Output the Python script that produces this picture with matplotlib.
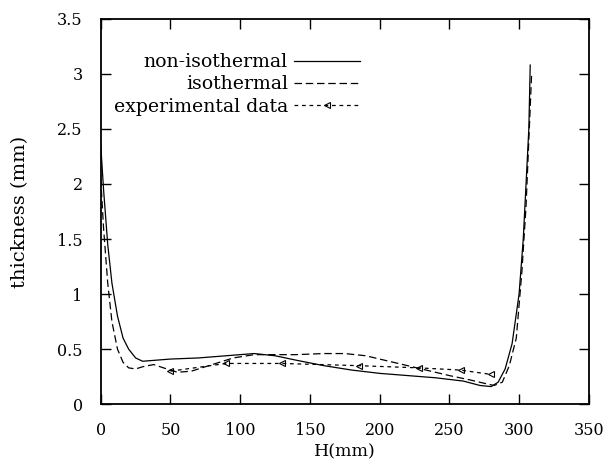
import matplotlib
matplotlib.use("Agg")
import matplotlib.pyplot as plt

# non-isothermal simulation (solid)
NONISO_H = [0, 2, 5, 8, 12, 16, 20, 25, 30, 40, 50, 70, 90, 110, 125, 140, 160,
            180, 200, 220, 240, 260, 272, 280, 285, 290, 295, 300, 303, 305, 307, 308]
NONISO_T = [2.35, 1.95, 1.45, 1.10, 0.80, 0.60, 0.50, 0.42, 0.39, 0.40, 0.41, 0.42,
            0.44, 0.46, 0.44, 0.40, 0.35, 0.31, 0.28, 0.26, 0.24, 0.21, 0.17, 0.16,
            0.20, 0.32, 0.55, 1.00, 1.50, 2.00, 2.50, 3.08]

# isothermal simulation (dashed)
ISO_H = [0, 2, 5, 8, 12, 16, 20, 25, 30, 38, 45, 55, 65, 80, 95, 110, 125, 140,
         160, 175, 190, 210, 230, 250, 265, 275, 282, 288, 293, 298, 302, 305, 307, 309]
ISO_T = [2.05, 1.60, 1.10, 0.75, 0.50, 0.38, 0.33, 0.32, 0.34, 0.36, 0.33, 0.29,
         0.30, 0.36, 0.42, 0.45, 0.45, 0.45, 0.46, 0.46, 0.44, 0.38, 0.32, 0.26,
         0.22, 0.19, 0.17, 0.20, 0.35, 0.60, 1.20, 1.80, 2.40, 3.00]

# experimental measurements
EXP_H = [50, 90, 130, 185, 228, 258, 280]
EXP_T = [0.30, 0.37, 0.37, 0.35, 0.33, 0.31, 0.27]

XTICKS = [0, 50, 100, 150, 200, 250, 300, 350]
YTICKS = [0, 0.5, 1, 1.5, 2, 2.5, 3, 3.5]

plt.rcParams["font.family"] = ["DejaVu Serif"]

fig = plt.figure(figsize=(6.07, 4.70), dpi=100)
ax = fig.add_axes([0.166, 0.140, 0.804, 0.820])

ax.plot(NONISO_H, NONISO_T, color="black", lw=0.9, label="non-isothermal")
ax.plot(ISO_H, ISO_T, color="black", lw=0.9, dashes=(6, 3), label="isothermal")
ax.plot(EXP_H, EXP_T, color="black", lw=0.9, dashes=(3, 3), marker="<",
        markersize=4, fillstyle="none", markeredgewidth=0.8,
        label="experimental data")

ax.set_xlim(0, 350)
ax.set_ylim(0, 3.5)
ax.set_xticks(XTICKS)
ax.set_yticks(YTICKS)
ax.set_yticklabels(["0", "0.5", "1", "1.5", "2", "2.5", "3", "3.5"])
ax.tick_params(direction="in", top=True, right=True, length=7, width=1,
               labelsize=11.5)
ax.tick_params(axis="x", pad=13)
ax.tick_params(axis="y", pad=13)
for s in ax.spines.values():
    s.set_linewidth(1.3)

ax.set_xlabel("H(mm)", fontsize=12.5, labelpad=3)
ax.set_ylabel("thickness (mm)", fontsize=14, labelpad=20)

ax.legend(loc="upper right", bbox_to_anchor=(0.55, 0.935), frameon=False,
          markerfirst=False, fontsize=13.6, handlelength=3.5, numpoints=1,
          labelspacing=0.22, handletextpad=0.3, borderpad=0)

fig.savefig("out.png", dpi=100)
